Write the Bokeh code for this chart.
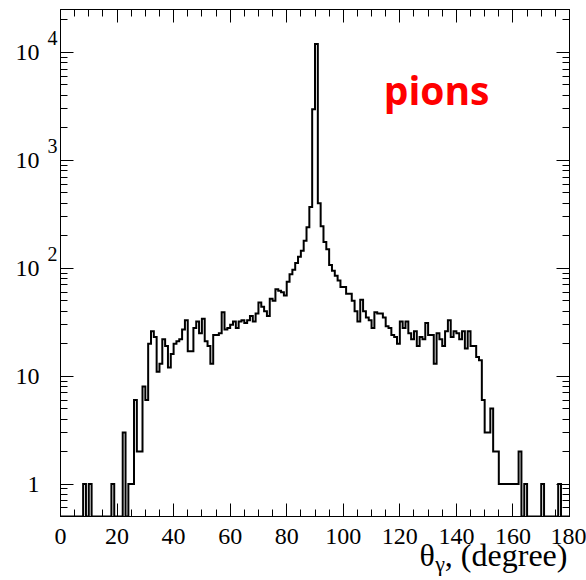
import numpy as np
from bokeh.plotting import figure
from bokeh.models import (Range1d, FixedTicker, LinearAxis, LogAxis, Label,
                          CustomJSTickFormatter, LogScale)
from bokeh.embed import file_html
from bokeh.resources import INLINE

# ---- data -----------------------------------------------------------
bin_low = 0.0
bin_width = 1.0
counts = [
    0, 0, 0, 0, 0, 0, 0, 0, 1, 0,            # 0-9
    1, 0, 0, 0, 0, 0, 0, 0, 1, 0,            # 10-19
    0, 0, 3, 0, 1, 1, 6, 2, 2, 8,            # 20-29
    6, 20, 26, 23, 11, 13, 22, 19, 12, 16,   # 30-39
    20, 21, 22, 27, 33, 17, 17, 28, 32, 25,  # 40-49
    34, 21, 19, 13, 24, 24, 25, 39, 27, 28,  # 50-59
    30, 32, 28, 32, 33, 31, 33, 36, 32, 38,  # 60-69
    48, 44, 40, 36, 52, 50, 64, 62, 60, 56,  # 70-79
    75, 88, 97, 112, 128, 145, 180, 240, 370, 2970,  # 80-89
    12000, 400, 245, 175, 150, 107, 95, 85, 77, 67,  # 90-99
    67, 58, 58, 50, 40, 32, 51, 40, 35, 33,  # 100-109
    28, 39, 38, 38, 35, 29, 28, 24, 23, 20,  # 110-119
    32, 28, 32, 25, 22, 26, 19, 23, 22, 31,  # 120-129
    24, 24, 13, 25, 22, 19, 26, 33, 23, 26,  # 130-139
    25, 22, 26, 18, 26, 19, 19, 15, 14, 6,   # 140-149
    3, 3, 5, 2, 2, 1, 1, 1, 1, 1,            # 150-159
    1, 1, 2, 0, 1, 0, 0, 0, 0, 0,            # 160-169
    1, 0, 0, 0, 0, 0, 1, 0, 0, 0,            # 170-179
]
x_ticks = [0, 20, 40, 60, 80, 100, 120, 140, 160, 180]
y_ticks = [1, 10, 100, 1000, 10000]
y_tick_labels = ["1", "10", "10", "10", "10"]
y_tick_exponents = ["", "", "2", "3", "4"]
label_text = "pions"
x_title_main = "θ"
x_title_sub = "γ"
x_title_unit = ", (degree)"

x_min, x_max = 0, 180
y_min, y_max = 0.5, 25000

W, H = 586, 580

# ---- figure ---------------------------------------------------------
p = figure(width=W, height=H, output_backend="svg", toolbar_location=None,
           x_range=Range1d(x_min, x_max), y_range=Range1d(y_min, y_max),
           y_axis_type="log", x_axis_location=None, y_axis_location=None,
           min_border_left=60, min_border_right=17, min_border_top=9,
           min_border_bottom=64)
p.xgrid.visible = False
p.ygrid.visible = False
p.outline_line_color = "black"
p.outline_line_width = 1
p.background_fill_color = "white"
p.border_fill_color = "white"

# exponent labels sit a little above their decade tick
exp_shift = 10 ** (14.0 / 108.0)
p.extra_y_ranges = {"exp": Range1d(y_min / exp_shift, y_max / exp_shift)}
p.extra_y_scales = {"exp": LogScale()}

x_minor = [v for v in range(0, 181, 5) if v % 20 != 0]
y_minor = []
for dec in [0.1, 1, 10, 100, 1000, 10000]:
    for m in range(2, 10):
        v = m * dec
        if y_min <= v <= y_max:
            y_minor.append(v)

serif = "Liberation Serif"
blank = CustomJSTickFormatter(code="return ''")

def ticks_only(ax):
    ax.major_tick_in = 13
    ax.major_tick_out = 0
    ax.minor_tick_in = 7
    ax.minor_tick_out = 0
    ax.major_tick_line_color = "black"
    ax.minor_tick_line_color = "black"
    ax.axis_line_color = "black"
    ax.major_label_standoff = 0

def labels_only(ax, size, standoff):
    ax.major_tick_line_color = None
    ax.minor_tick_line_color = None
    ax.axis_line_color = None
    ax.major_tick_in = 0
    ax.major_tick_out = 0
    ax.minor_tick_in = 0
    ax.minor_tick_out = 0
    ax.major_label_text_font = serif
    ax.major_label_text_font_size = size
    ax.major_label_text_color = "black"
    ax.major_label_standoff = standoff

# bottom: ticks + numbers
xb = LinearAxis(ticker=FixedTicker(ticks=x_ticks, minor_ticks=x_minor))
ticks_only(xb)
xb.major_label_text_font = serif
xb.major_label_text_font_size = "24px"
xb.major_label_text_color = "black"
xb.major_label_standoff = 12
p.add_layout(xb, "below")

# bottom title "θγ, (degree)" built from label-only axes
t_unit_x, t_main_x, t_sub_x = 157.6, 129.7, 134.2
xa = LinearAxis(ticker=FixedTicker(ticks=[t_main_x, t_unit_x], minor_ticks=[]))
labels_only(xa, "32px", -10)
xa.major_label_overrides = {t_main_x: x_title_main, t_unit_x: x_title_unit}
p.add_layout(xa, "below")

xg = LinearAxis(ticker=FixedTicker(ticks=[t_sub_x], minor_ticks=[]))
labels_only(xg, "22px", -25)
xg.major_label_overrides = {t_sub_x: x_title_sub}
p.add_layout(xg, "below")

# top: ticks only
xt = LinearAxis(ticker=FixedTicker(ticks=x_ticks, minor_ticks=x_minor),
                formatter=blank)
ticks_only(xt)
p.add_layout(xt, "above")

# left: ticks, then exponents, then mantissas
yl = LogAxis(ticker=FixedTicker(ticks=y_ticks, minor_ticks=y_minor),
             formatter=blank)
ticks_only(yl)
p.add_layout(yl, "left")

ye = LogAxis(ticker=FixedTicker(ticks=y_ticks, minor_ticks=[]),
             y_range_name="exp")
labels_only(ye, "20px", 3)
ye.major_label_overrides = {t: e for t, e in zip(y_ticks, y_tick_exponents)}
p.add_layout(ye, "left")

ym = LogAxis(ticker=FixedTicker(ticks=y_ticks, minor_ticks=[]))
labels_only(ym, "24px", 5)
ym.major_label_overrides = {t: s for t, s in zip(y_ticks, y_tick_labels)}
p.add_layout(ym, "left")

# right: ticks only
yr = LogAxis(ticker=FixedTicker(ticks=y_ticks, minor_ticks=y_minor),
             formatter=blank)
ticks_only(yr)
p.add_layout(yr, "right")

# ---- histogram outline ---------------------------------------------
c = np.array(counts, dtype=float)
edges = bin_low + bin_width * np.arange(len(c) + 1)
yv = np.where(c > 0, c, y_min)
xs = np.repeat(edges, 2)[1:-1]
ys = np.repeat(yv, 2)
xs = np.concatenate([[edges[0]], xs, [edges[-1]]])
ys = np.concatenate([[y_min], ys, [y_min]])
p.line(xs, ys, line_color="black", line_width=2, line_join="miter")

# ---- in-frame label ---------------------------------------------------
p.add_layout(Label(x=133, y=3400, text=label_text, text_font="Open Sans",
                   text_font_style="bold", text_font_size="39px",
                   text_color="#ff0000", text_align="center",
                   text_baseline="alphabetic", y_offset=13))

open("out.html", "w").write(file_html(p, INLINE))
